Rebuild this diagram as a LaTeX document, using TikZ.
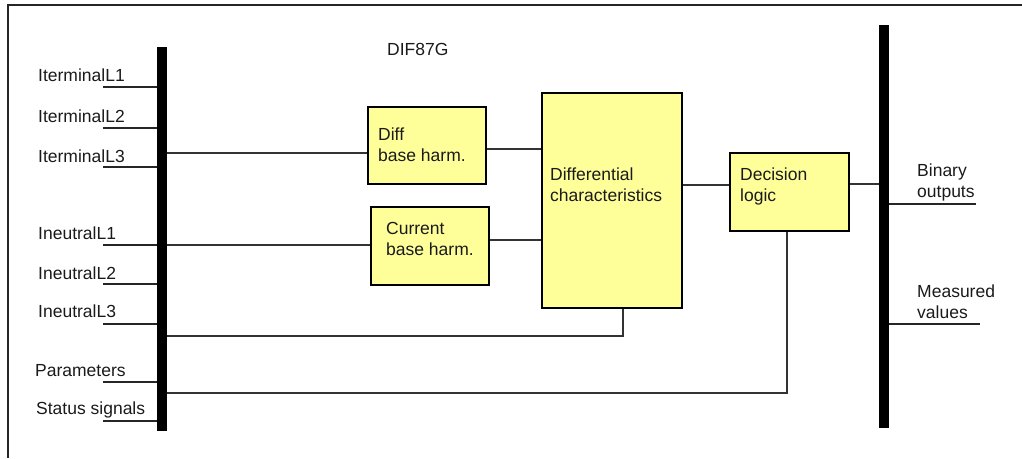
\documentclass[tikz,border=0pt]{standalone}
\usepackage{fontspec}
\setmainfont{Liberation Sans}
\definecolor{boxfill}{HTML}{FFFF99}
\definecolor{wire}{HTML}{333333}
\definecolor{ink}{HTML}{1A1A1A}
\begin{document}
\begin{tikzpicture}[x=1pt,y=-1pt,
  every node/.style={font=\fontsize{17.5}{20.5}\selectfont, text=ink},
  blk/.style={draw=black, fill=boxfill, line width=2pt, inner sep=0pt, anchor=north west},
  bus/.style={fill=black, inner sep=0pt, anchor=north west, minimum width=10pt},
  lbl/.style={inner sep=0pt, anchor=base west, align=left},
  wirestyle/.style={draw=wire, line width=1.5pt},
  stub/.style={draw=black!85, line width=1.6pt}]
\useasboundingbox (0,0) rectangle (1022,458);
\draw[line width=1.5pt, black!85] (8,458) -- (8,5) -- (1022,5);

% buses
\node[bus, minimum height=384pt] (lbus) at (157,47) {};
\node[bus, minimum height=403pt] (rbus) at (879,25) {};

% title
\node[lbl] (title) at (387,55) {DIF87G};

% blocks
\node[blk, minimum width=118pt, minimum height=77pt] (diff) at (367,106) {};
\node[blk, minimum width=118pt, minimum height=78pt] (cur) at (370,206) {};
\node[blk, minimum width=140pt, minimum height=215pt] (dch) at (541,92) {};
\node[blk, minimum width=119pt, minimum height=78pt] (dec) at (729,152) {};

% multi-line labels: base anchor is the baseline of the last line
\node[lbl] (tdiff) at (378,161) {Diff\\base harm.};
\node[lbl] (tcur) at (386,255) {Current\\base harm.};
\node[lbl] (tdch) at (550,201) {Differential\\characteristics};
\node[lbl] (tdec) at (740,201) {Decision\\logic};

% input labels
\node[lbl] (l1) at (38,81) {IterminalL1};
\node[lbl] (l2) at (38,122) {IterminalL2};
\node[lbl] (l3) at (38,162) {IterminalL3};
\node[lbl] (l4) at (38,239) {IneutralL1};
\node[lbl] (l5) at (38,279) {IneutralL2};
\node[lbl] (l6) at (38,317) {IneutralL3};
\node[lbl] (l7) at (35,376) {Parameters};
\node[lbl] (l8) at (36,414) {Status signals};

% input stubs
\foreach \n/\y in {1/87,2/128,3/167,4/245,5/284,6/324,7/382,8/421}{
  \coordinate (in\n) at (103,\y);
  \draw[stub] (in\n) -- (in\n -| lbus.west);
}

% output labels and stubs
\node[lbl] (bo) at (917,197) {Binary\\outputs};
\node[lbl] (mv) at (917,318) {Measured\\values};
\coordinate (bo-end) at (976,204);
\coordinate (mv-end) at (980,324);
\draw[stub] (bo-end -| rbus.east) -- (bo-end);
\draw[stub] (mv-end -| rbus.east) -- (mv-end);

% internal wires
\coordinate (w1) at (167,153);
\draw[wirestyle] (w1 -| lbus.east) -- (w1 -| diff.west);
\coordinate (w2) at (167,245);
\draw[wirestyle] (w2 -| lbus.east) -- (w2 -| cur.west);
\coordinate (w3) at (485,149);
\draw[wirestyle] (w3 -| diff.east) -- (w3 -| dch.west);
\coordinate (w4) at (488,240);
\draw[wirestyle] (w4 -| cur.east) -- (w4 -| dch.west);
\coordinate (w5) at (681,185);
\draw[wirestyle] (w5 -| dch.east) -- (w5 -| dec.west);
\coordinate (w6) at (848,184);
\draw[wirestyle] (w6 -| dec.east) -- (w6 -| rbus.west);
\coordinate (w7) at (623,336);
\draw[wirestyle] (w7 -| lbus.east) -- (w7) -- (w7 |- dch.south);
\coordinate (w8) at (787,393);
\draw[wirestyle] (w8 -| lbus.east) -- (w8) -- (w8 |- dec.south);
\end{tikzpicture}
\end{document}
